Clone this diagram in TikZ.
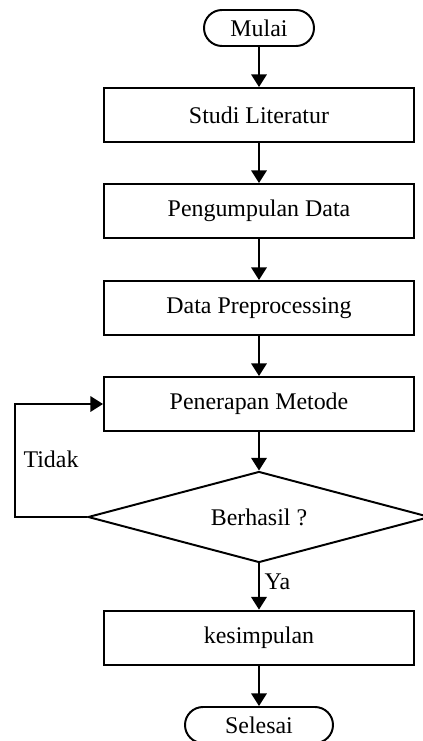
\documentclass[tikz,border=0pt]{standalone}
\usepackage{fontspec}
\setmainfont{Liberation Serif}
\usetikzlibrary{arrows.meta,shapes.geometric}

\begin{document}
\begin{tikzpicture}
\tikzstyle{proses}=[rectangle, draw=black, line width=1.4pt, minimum width=7.75cm, minimum height=1.35cm, font=\fontsize{17}{20}\selectfont]
\tikzstyle{terminal}=[rectangle, rounded corners=0.45cm, draw=black, line width=1.4pt, minimum height=0.9cm, font=\fontsize{17}{20}\selectfont]
\tikzstyle{keputusan}=[diamond, aspect=3.75, draw=black, line width=1.4pt, minimum width=8.55cm, minimum height=2.275cm, inner sep=0pt, font=\fontsize{17}{20}\selectfont]
\tikzstyle{panah}=[line width=1.4pt, -{Triangle[width=11pt,length=9pt]}]

\useasboundingbox (0,0) rectangle (10.575,-18.525);

% Start
\node at (6.475, -0.7) [terminal, minimum width=2.75cm] (mulai) {Mulai};

% Steps
\node at (6.475, -2.875) [proses] (studi) {Studi Literatur};
\node at (6.475, -5.275) [proses] (kumpul) {Pengumpulan Data};
\node at (6.475, -7.7) [proses] (prepro) {Data Preprocessing};
\node at (6.475, -10.1) [proses] (metode) {Penerapan Metode};

% Decision
\node at (6.475, -12.925) [keputusan] (cek) {Berhasil ?};
\coordinate (balik) at (0.375, -12.925);

% End
\node at (6.475, -15.94) [proses] (simpul) {kesimpulan};
\node at (6.475, -18.125) [terminal, minimum width=3.7cm] (selesai) {Selesai};

% Arrows
\draw [panah] (mulai) -- (studi);
\draw [panah] (studi) -- (kumpul);
\draw [panah] (kumpul) -- (prepro);
\draw [panah] (prepro) -- (metode);
\draw [panah] (metode) -- (cek);
\draw [panah] (cek.west) -- (balik) |- (metode.west);
\draw [panah] (cek.south) -- node [right, pos=0.4, font=\fontsize{17}{20}\selectfont] (ya) {Ya} (simpul.north);
\draw [panah] (simpul) -- (selesai);

% Text
\node at (1.275, -11.475) [black, font=\fontsize{17}{20}\selectfont] (tidak) {Tidak};
\end{tikzpicture}
\end{document}
